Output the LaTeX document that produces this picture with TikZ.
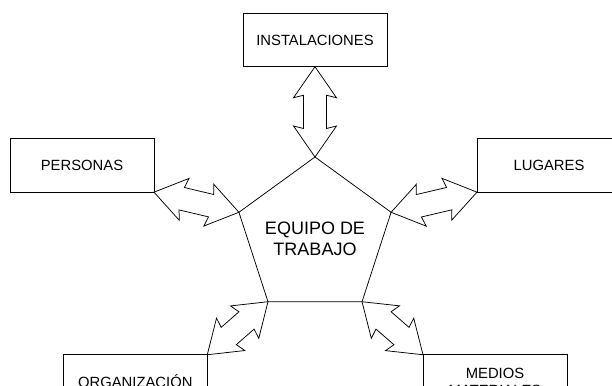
\documentclass[tikz,border=0pt]{standalone}
\usepackage{fontspec}
\setmainfont{Liberation Sans}
\usetikzlibrary{calc,shapes.geometric}

\newcommand{\flecha}[2]{%
  \draw[flecha] (#1)
    -- ($(#1)!31pt!(#2)!21.5pt!90:(#2)$)
    -- ($(#1)!28.5pt!(#2)!11.5pt!90:(#2)$)
    -- ($(#2)!28.5pt!(#1)!11.5pt!-90:(#1)$)
    -- ($(#2)!31pt!(#1)!21.5pt!-90:(#1)$)
    -- (#2)
    -- ($(#2)!31pt!(#1)!21.5pt!90:(#1)$)
    -- ($(#2)!28.5pt!(#1)!11.5pt!90:(#1)$)
    -- ($(#1)!28.5pt!(#2)!11.5pt!-90:(#2)$)
    -- ($(#1)!31pt!(#2)!21.5pt!-90:(#2)$)
    -- cycle;}

\begin{document}
\begin{tikzpicture}[x=1pt,y=-1pt,line width=0.75pt,
    caja/.style={draw,minimum width=144pt,minimum height=53.5pt,inner sep=0pt,
      outer sep=0pt,align=center,font=\fontsize{14.8}{17}\selectfont},
    pentagono/.style={draw,regular polygon,regular polygon sides=5,minimum size=160pt,
      inner sep=0pt,outer sep=0pt},
    titulo/.style={align=center,inner sep=0pt,yshift=-2pt,font=\fontsize{18}{21}\selectfont},
    flecha/.style={draw,fill=white,line join=miter}]
    \useasboundingbox (0,0) rectangle (612,385);
    \clip (0,0) rectangle (612,385);
    \node[pentagono] (equipo) at (315,237) {};
    \node[titulo] (equipotexto) at (equipo.center) {EQUIPO DE\\TRABAJO};
    \node[caja] (instalaciones) at (315,40) {INSTALACIONES};
    \node[caja] (personas) at (82,165.4) {PERSONAS};
    \node[caja] (lugares) at (549,165.4) {LUGARES};
    \node[caja] (organizacion) at (135.3,381.5) {ORGANIZACIÓN};
    \node[caja] (medios) at (495,381.5) {MEDIOS\\MATERIALES};
    \flecha{instalaciones.south}{equipo.corner 1}
    \flecha{personas.south east}{equipo.corner 2}
    \flecha{lugares.south west}{equipo.corner 5}
    \flecha{organizacion.north east}{equipo.corner 3}
    \flecha{medios.north west}{equipo.corner 4}
\end{tikzpicture}
\end{document}
